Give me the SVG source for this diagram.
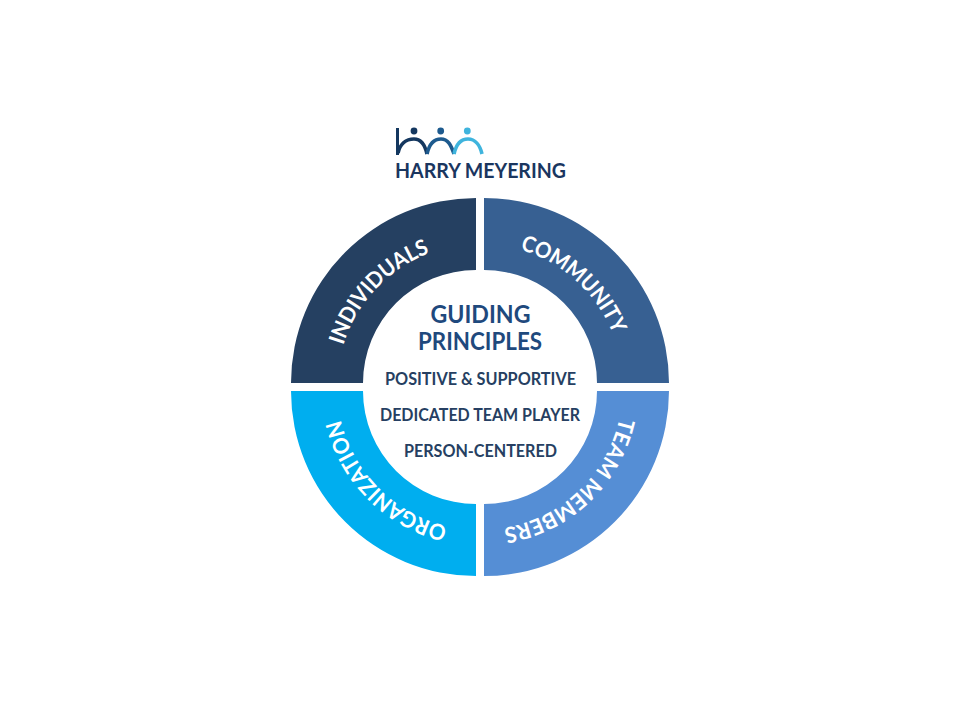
<svg xmlns="http://www.w3.org/2000/svg" width="960" height="720" viewBox="0 0 960 720">
<style>
.lbl{font-family:"Lato","Open Sans",sans-serif;font-weight:700;fill:#fff;font-size:22px}
.t{font-family:"Lato","Open Sans",sans-serif;font-weight:700;text-anchor:middle}
.h{font-size:25px;fill:#1f497d}
.s{font-size:16.5px;fill:#263f62}
.a{fill:none;stroke-width:3.6px}
</style>
<defs>
<path id="c1" d="M337 387A143 143 0 0 1 480 244"/>
<path id="c2" d="M480 244A143 143 0 0 1 623 387"/>
<path id="c3" d="M623 387A143 143 0 0 1 480 530"/>
<path id="c4" d="M480 530A143 143 0 0 1 337 387"/>
</defs>
<rect width="960" height="720" fill="#fff"/>
<g id="logo">
<rect x="396" y="128" width="3" height="27" fill="#14375f"/>
<circle cx="414" cy="131" r="3.400" fill="#14375f"/>
<circle cx="440.700" cy="131" r="3.400" fill="#1d5a8e"/>
<circle cx="467.300" cy="131" r="3.400" fill="#3fb4dd"/>
<path class="a" stroke="#14375f" d="M398 153C400 144 406 139 414 139C421 139 425 145 427 154"/>
<path class="a" stroke="#1d5a8e" d="M427 154C429 145 433 139 441 139C448 139 451 145 454 154"/>
<path class="a" stroke="#3fb4dd" d="M454 154C456 145 460 139 468 139C475 139 480 145 482 154"/>
<text x="480.500" y="178" class="t" font-size="20" fill="#1a365f" textLength="171" lengthAdjust="spacingAndGlyphs">HARRY MEYERING</text>
</g>
<g id="individuals">
<path fill="#254061" d="M476 198A185 185 0 0 0 291 383H363A113 113 0 0 1 476 270Z"/>
<text class="lbl" text-anchor="middle"><textPath href="#c1" startOffset="48%" textLength="131" lengthAdjust="spacingAndGlyphs">INDIVIDUALS</textPath></text>
</g>
<g id="community">
<path fill="#376092" d="M484 198A185 185 0 0 1 669 383H597A113 113 0 0 0 484 270Z"/>
<text class="lbl" text-anchor="middle"><textPath href="#c2" startOffset="47%" textLength="130" lengthAdjust="spacingAndGlyphs">COMMUNITY</textPath></text>
</g>
<g id="team-members">
<path fill="#558ed5" d="M669 391A185 185 0 0 1 484 576V504A113 113 0 0 0 597 391Z"/>
<text class="lbl" text-anchor="middle"><textPath href="#c3" startOffset="51.600%" textLength="170" lengthAdjust="spacingAndGlyphs">TEAM MEMBERS</textPath></text>
</g>
<g id="organization">
<path fill="#00aeef" d="M476 576A185 185 0 0 1 291 391H363A113 113 0 0 0 476 504Z"/>
<text class="lbl" text-anchor="middle"><textPath href="#c4" startOffset="50%" textLength="159" lengthAdjust="spacingAndGlyphs">ORGANIZATION</textPath></text>
</g>
<g id="center">
<text x="480.500" y="323" class="t h" textLength="100" lengthAdjust="spacingAndGlyphs">GUIDING</text>
<text x="480" y="350" class="t h" textLength="124" lengthAdjust="spacingAndGlyphs">PRINCIPLES</text>
<text x="480.500" y="385" class="t s" textLength="191" lengthAdjust="spacingAndGlyphs">POSITIVE &amp; SUPPORTIVE</text>
<text x="480" y="421" class="t s" textLength="200" lengthAdjust="spacingAndGlyphs">DEDICATED TEAM PLAYER</text>
<text x="480.500" y="457" class="t s" textLength="153" lengthAdjust="spacingAndGlyphs">PERSON-CENTERED</text>
</g>
</svg>
